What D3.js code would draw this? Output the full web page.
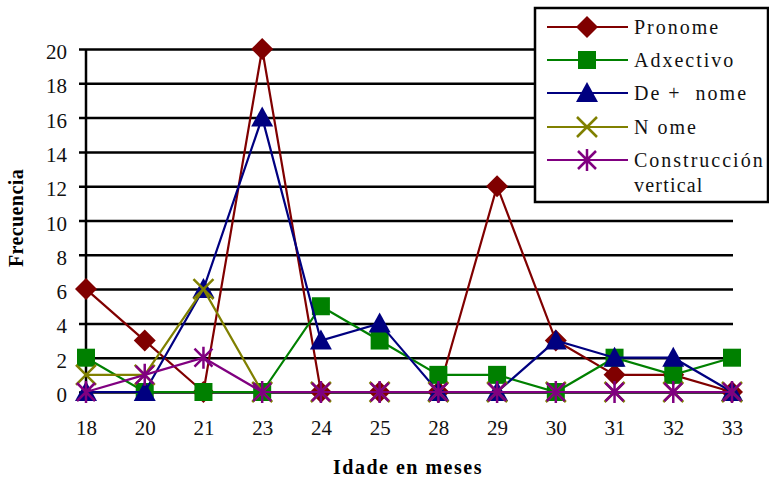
<!DOCTYPE html>
<html>
<head>
<meta charset="utf-8">
<script src="https://cdn.jsdelivr.net/npm/d3@7"></script>
<style>
  html, body { margin: 0; padding: 0; background: #fff; }
  svg { display: block; }
  svg text { font-family: "Liberation Serif", "DejaVu Serif", "Times New Roman", serif; }
</style>
</head>
<body>
<svg id="chart" width="769" height="481"></svg>
<script>
// Ages (months) on the x axis
const ages = ["18", "20", "21", "23", "24", "25", "28", "29", "30", "31", "32", "33"];
const yTicks = [0, 2, 4, 6, 8, 10, 12, 14, 16, 18, 20];

// Frequency per structure type
const pronome      = [6, 3, 0, 20, 0, 0, 0, 12, 3, 1, 1, 0];
const adxectivo    = [2, 0, 0, 0, 5, 3, 1, 1, 0, 2, 1, 2];
const deNome       = [0, 0, 6, 16, 3, 4, 0, 0, 3, 2, 2, 0];
const nome         = [1, 1, 6, 0, 0, 0, 0, 0, 0, 0, 0, 0];
const construccion = [0, 1, 2, 0, 0, 0, 0, 0, 0, 0, 0, 0];

const seriesNames = ["Pronome", "Adxectivo", "De +  nome", "N ome", "Construcción"];

const series = [
  { name: seriesNames[0], values: pronome,      color: "#800000", marker: "diamond" },
  { name: seriesNames[1], values: adxectivo,    color: "#008000", marker: "square" },
  { name: seriesNames[2], values: deNome,       color: "#000080", marker: "triangle" },
  { name: seriesNames[3], values: nome,         color: "#808000", marker: "x" },
  { name: seriesNames[4], values: construccion, color: "#800080", marker: "star" }
];

const svg = d3.select("#chart");

const x = d3.scalePoint().domain(ages).range([86, 732]).padding(0);
const y = d3.scaleLinear().domain([0, 20]).range([392, 49]);

// Horizontal grid lines (axis ticks stretched across the plot)
const yAxis = d3.axisLeft(y).tickValues(yTicks).tickSize(-(733 - 86)).tickSizeOuter(0);
const gy = svg.append("g").attr("transform", "translate(86,0)").call(yAxis);
gy.select(".domain").remove();
gy.selectAll(".tick line")
  .attr("x1", -7).attr("x2", 733 - 86)
  .attr("stroke", "#000").attr("stroke-width", 2.5);
gy.selectAll(".tick text")
  .attr("x", -19).attr("dy", 9.5)
  .attr("font-family", null).attr("font-size", 21).attr("fill", "#111");

// Vertical axis line
svg.append("line")
  .attr("x1", 86).attr("x2", 86).attr("y1", y(20)).attr("y2", y(0))
  .attr("stroke", "#000").attr("stroke-width", 2.5);

// Category labels along the bottom
const xAxis = d3.axisBottom(x).tickSize(0).tickPadding(28);
const gx = svg.append("g").attr("transform", "translate(0,392)").call(xAxis);
gx.select(".domain").remove();
gx.selectAll(".tick text")
  .attr("font-family", null).attr("font-size", 21).attr("fill", "#111");

// Axis titles
svg.append("text")
  .attr("x", 408).attr("y", 474)
  .attr("text-anchor", "middle")
  .attr("font-size", 20).attr("font-weight", "bold")
  .attr("letter-spacing", 1.5)
  .text("Idade en meses");

svg.append("text")
  .attr("transform", "translate(23,218) rotate(-90)")
  .attr("text-anchor", "middle")
  .attr("font-size", 20).attr("font-weight", "bold")
  .attr("letter-spacing", 0.4)
  .text("Frecuencia");

// Marker shapes
function drawMarker(g, type, color) {
  if (type === "diamond") {
    g.append("path").attr("d", "M0,-11L11,0L0,11L-11,0Z").attr("fill", color);
  } else if (type === "square") {
    g.append("rect").attr("x", -9).attr("y", -9).attr("width", 18).attr("height", 18).attr("fill", color);
  } else if (type === "triangle") {
    g.append("path").attr("d", "M0,-11L11,9L-11,9Z").attr("fill", color);
  } else if (type === "x") {
    g.append("path").attr("d", "M-10,-10L10,10M-10,10L10,-10")
      .attr("stroke", color).attr("stroke-width", 2.5).attr("fill", "none");
  } else if (type === "star") {
    g.append("path").attr("d", "M-9,-9L9,9M-9,9L9,-9M0,-11L0,11")
      .attr("stroke", color).attr("stroke-width", 2.5).attr("fill", "none");
  }
}

const line = d3.line().x((d, i) => x(ages[i])).y(d => y(d));

series.forEach(s => {
  const g = svg.append("g");
  g.append("path")
    .attr("d", line(s.values))
    .attr("fill", "none").attr("stroke", s.color).attr("stroke-width", 2.2);
  s.values.forEach((v, i) => {
    const m = g.append("g").attr("transform", `translate(${x(ages[i])},${y(v)})`);
    drawMarker(m, s.marker, s.color);
  });
});

// Legend
const legend = svg.append("g");
legend.append("rect")
  .attr("x", 535).attr("y", 8).attr("width", 233).attr("height", 194)
  .attr("fill", "#fff").attr("stroke", "#000").attr("stroke-width", 2.5);

const legendY = [27, 60, 93, 127, 160];
series.forEach((s, i) => {
  const ly = legendY[i];
  const g = legend.append("g");
  g.append("line").attr("x1", 547).attr("x2", 628).attr("y1", ly).attr("y2", ly)
    .attr("stroke", s.color).attr("stroke-width", 2.2);
  const m = g.append("g").attr("transform", `translate(587,${ly})`);
  drawMarker(m, s.marker, s.color);
  g.append("text")
    .attr("x", 634).attr("y", ly + 7)
    .attr("font-size", 20).attr("fill", "#111")
    .attr("letter-spacing", 2)
    .attr("xml:space", "preserve")
    .text(s.name);
});
legend.append("text")
  .attr("x", 634).attr("y", 192)
  .attr("font-size", 20).attr("fill", "#111")
  .attr("letter-spacing", 1.2)
  .text("vertical");
</script>
</body>
</html>
